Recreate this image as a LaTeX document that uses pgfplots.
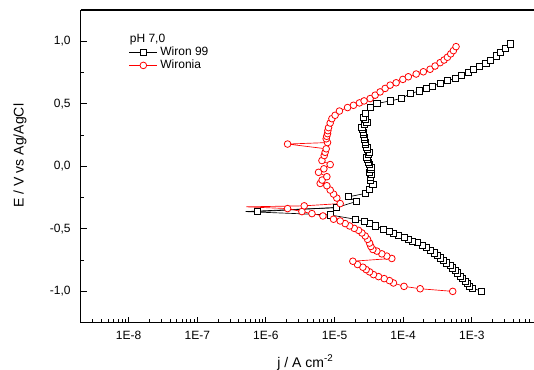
\documentclass[border=0pt]{standalone}
\usepackage{pgfplots}
\pgfplotsset{compat=1.18}
\usepackage{fontspec}
\setmainfont{Liberation Sans}
\usetikzlibrary{calc}
\definecolor{wred}{RGB}{255,0,0}
\begin{document}
\begin{tikzpicture}
\begin{axis}[
  scale only axis,
  width=339.75pt, height=234.45pt,
  xmode=log,
  xmin=2e-9, xmax=8e-3,
  ymin=-1.25, ymax=1.25,
  axis x line*=box, axis y line*=left,
  xtick pos=bottom, ytick pos=left,
  tick align=inside,
  major tick length=4.5pt, minor tick length=2.8pt,
  every tick/.style={black, line width=0.6pt},
  axis line style={line width=0.9pt},
  xtick={1e-8,1e-7,1e-6,1e-5,1e-4,1e-3},
  xticklabels={1E-8,1E-7,1E-6,1E-5,1E-4,1E-3},
  minor xtick={3e-9,4e-9,5e-9,6e-9,7e-9,8e-9,9e-9,
    2e-8,3e-8,4e-8,5e-8,6e-8,7e-8,8e-8,9e-8,
    2e-7,3e-7,4e-7,5e-7,6e-7,7e-7,8e-7,9e-7,
    2e-6,3e-6,4e-6,5e-6,6e-6,7e-6,8e-6,9e-6,
    2e-5,3e-5,4e-5,5e-5,6e-5,7e-5,8e-5,9e-5,
    2e-4,3e-4,4e-4,5e-4,6e-4,7e-4,8e-4,9e-4,
    2e-3,3e-3,4e-3,5e-3,6e-3,7e-3},
  ytick={-1,-0.5,0,0.5,1},
  yticklabels={{-1,0},{-0,5},{0,0},{0,5},{1,0}},
  minor ytick={-0.75,-0.25,0.25,0.75},
  /pgf/number format/assume math mode=true,
  ticklabel style={font=\fontsize{9}{10.5}\selectfont},
  yticklabel style={xshift=-4pt},
  xticklabel style={yshift=-3pt},
  xlabel={j / A cm\textsuperscript{-2}},
  ylabel={E / V vs Ag/AgCl},
  label style={font=\fontsize{10.5}{12}\selectfont},
  xlabel style={at={(axis description cs:0.496,-0.128)}, anchor=center},
  ylabel style={at={(axis description cs:-0.134,0.5345)}, anchor=center, rotate=0},
  legend style={at={(axis description cs:0.106,0.892)}, anchor=north west,
    draw=none, fill=none, inner sep=0pt, row sep=-2pt,
    font=\fontsize{9}{10.5}\selectfont},
  legend cell align=left,
  legend image code/.code={\draw[#1, mark repeat=2, mark phase=2] plot coordinates {(0cm,0cm) (0.37cm,0cm) (0.74cm,0cm)};},
]
% Wiron 99 (cathodic branch)
\addplot[black, line width=0.5pt, mark=square*, mark size=2.3pt,
  mark options={fill=white, draw=black, line width=0.6pt, solid}] coordinates {
(1.40e-3,-1.000) (1.02e-3,-0.973) (9.24e-4,-0.960) (8.64e-4,-0.933) (7.99e-4,-0.920)
(7.31e-4,-0.898) (6.76e-4,-0.879) (6.18e-4,-0.852) (5.71e-4,-0.834) (5.28e-4,-0.812)
(4.83e-4,-0.791) (4.32e-4,-0.772) (3.86e-4,-0.753) (3.46e-4,-0.732) (3.16e-4,-0.710)
(2.83e-4,-0.692) (2.47e-4,-0.673) (2.21e-4,-0.651) (1.93e-4,-0.630) (1.62e-4,-0.611)
(1.38e-4,-0.598) (1.20e-4,-0.584) (1.03e-4,-0.566) (8.55e-5,-0.549) (7.23e-5,-0.533)
(6.32e-5,-0.517) (5.18e-5,-0.504) (4.00e-5,-0.477) (3.24e-5,-0.458) (2.71e-5,-0.442)
(2.00e-5,-0.423) (8.66e-6,-0.389)
};
\addlegendentry{Wiron 99}
% Wiron 99 (near corrosion potential)
\addplot[black, line width=0.5pt, no markers, forget plot] coordinates {
(8.66e-6,-0.389) (5.07e-7,-0.362) (1.06e-5,-0.330)
};
% Wiron 99 (anodic branch)
\addplot[black, line width=0.5pt, mark=square*, mark size=2.3pt, forget plot,
  mark options={fill=white, draw=black, line width=0.6pt, solid}] coordinates {
(7.58e-7,-0.362) (1.06e-5,-0.330) (2.07e-5,-0.282)
(1.60e-5,-0.244) (2.80e-5,-0.217) (3.24e-5,-0.182) (3.62e-5,-0.142) (3.31e-5,-0.110)
(3.31e-5,-0.088) (3.45e-5,-0.068) (3.24e-5,-0.048) (3.39e-5,-0.028) (3.39e-5,-0.008)
(3.20e-5,0.012) (3.13e-5,0.032) (3.05e-5,0.052) (2.96e-5,0.072) (3.10e-5,0.092)
(3.23e-5,0.113) (3.05e-5,0.133) (2.96e-5,0.153) (2.85e-5,0.173) (2.80e-5,0.193)
(2.75e-5,0.213) (2.70e-5,0.233) (2.64e-5,0.254) (2.64e-5,0.274) (2.55e-5,0.294)
(2.51e-5,0.314) (2.75e-5,0.334) (2.96e-5,0.354) (2.80e-5,0.374) (2.64e-5,0.394)
(2.80e-5,0.426) (3.31e-5,0.470) (4.14e-5,0.502) (6.47e-5,0.523) (9.35e-5,0.542)
(1.29e-4,0.582) (1.73e-4,0.603) (2.16e-4,0.623) (2.70e-4,0.641) (3.46e-4,0.663)
(4.42e-4,0.684) (5.71e-4,0.703) (7.14e-4,0.730) (8.93e-4,0.748) (1.05e-3,0.776)
(1.29e-3,0.796) (1.61e-3,0.824) (1.89e-3,0.850) (2.26e-3,0.883) (2.64e-3,0.909)
(3.05e-3,0.944) (3.61e-3,0.979)
};
% Wironia (cathodic branch)
\addplot[wred, line width=0.5pt, mark=*, mark size=2.5pt,
  mark options={fill=white, draw=wred, line width=0.6pt, solid}] coordinates {
(5.28e-4,-1.000) (1.77e-4,-0.979) (1.03e-4,-0.960) (7.23e-5,-0.933) (6.32e-5,-0.914)
(5.29e-5,-0.898) (4.38e-5,-0.882) (3.70e-5,-0.866) (3.24e-5,-0.844) (2.89e-5,-0.826)
(2.59e-5,-0.807) (2.16e-5,-0.785) (1.85e-5,-0.759) (6.84e-5,-0.737) (5.78e-5,-0.718)
(4.89e-5,-0.700) (4.14e-5,-0.678) (3.62e-5,-0.665) (3.39e-5,-0.641) (3.24e-5,-0.614)
(3.03e-5,-0.584) (2.80e-5,-0.557) (2.51e-5,-0.533) (2.24e-5,-0.512) (1.94e-5,-0.496)
(1.66e-5,-0.477) (1.43e-5,-0.458) (1.21e-5,-0.437) (9.68e-6,-0.423) (6.78e-6,-0.397)
(4.69e-6,-0.378) (3.35e-6,-0.362) (2.07e-6,-0.338)
};
\addlegendentry{Wironia}
% Wironia (near corrosion potential)
\addplot[wred, line width=0.5pt, no markers, forget plot] coordinates {
(2.07e-6,-0.338) (5.2e-7,-0.324) (3.62e-6,-0.316)
};
% Wironia (anodic branch)
\addplot[wred, line width=0.5pt, mark=*, mark size=2.5pt, forget plot,
  mark options={fill=white, draw=wred, line width=0.6pt, solid}] coordinates {
(3.62e-6,-0.316)
(1.21e-5,-0.298) (1.08e-5,-0.254) (9.68e-6,-0.222) (8.66e-6,-0.190) (7.74e-6,-0.155)
(6.19e-6,-0.137) (6.60e-6,-0.110) (7.74e-6,-0.083) (5.85e-6,-0.048) (7.00e-6,-0.020)
(8.65e-6,0.014) (6.56e-6,0.046) (7.08e-6,0.086) (7.30e-6,0.112) (7.57e-6,0.140)
(2.07e-6,0.178) (7.91e-6,0.190) (7.57e-6,0.220) (7.70e-6,0.240) (7.91e-6,0.261)
(8.00e-6,0.285) (8.18e-6,0.309) (8.65e-6,0.346) (9.16e-6,0.381) (1.02e-5,0.408)
(1.18e-5,0.442) (1.55e-5,0.470) (1.89e-5,0.488) (2.31e-5,0.507) (2.70e-5,0.523)
(3.31e-5,0.542) (3.91e-5,0.569) (4.62e-5,0.595) (5.47e-5,0.623) (6.47e-5,0.649)
(7.91e-5,0.668) (9.91e-5,0.695) (1.19e-4,0.716) (1.55e-4,0.738) (1.97e-4,0.756)
(2.47e-4,0.776) (2.92e-4,0.802) (3.46e-4,0.829) (3.95e-4,0.850) (4.42e-4,0.872)
(4.94e-4,0.899) (5.40e-4,0.925) (5.90e-4,0.957)
};
\node[anchor=west, font=\fontsize{9}{10.5}\selectfont, inner sep=0pt] at (axis description cs:0.108,0.905) {pH 7,0};
\end{axis}
\pgfresetboundingbox
\path[use as bounding box] ($(current axis.south west)+(-60.5pt,-34.8pt)$) rectangle ($(current axis.north east)+(0.2pt,7.5pt)$);
\end{tikzpicture}
\end{document}
